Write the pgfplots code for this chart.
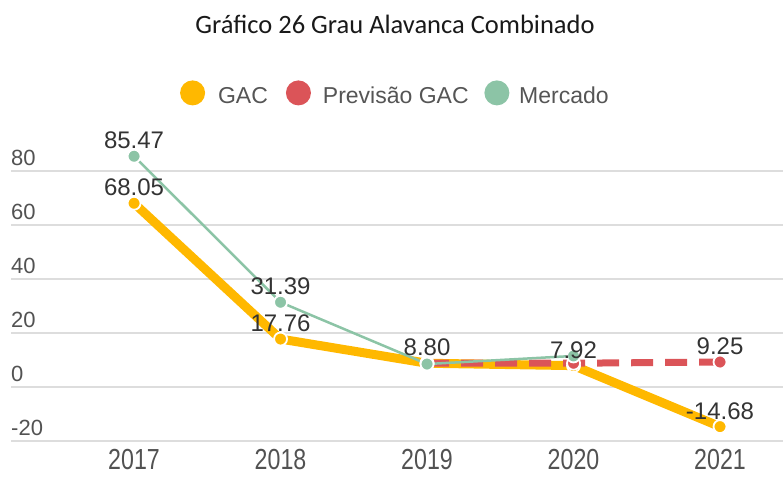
\documentclass[border=0pt]{standalone}
\usepackage{pgfplots}
\pgfplotsset{compat=1.18}
\usepackage{fontspec}
\setmainfont{Liberation Sans}
\newfontfamily\titlefont{Carlito}
\newfontfamily\narrowfont[FakeStretch=0.8]{Liberation Sans}
\definecolor{gac}{HTML}{FFB800}
\definecolor{prev}{HTML}{DB5458}
\definecolor{merc}{HTML}{8CC4A6}
\definecolor{gridc}{HTML}{DDDDDD}
\definecolor{txt}{HTML}{333333}
\definecolor{legtxt}{HTML}{555555}
\begin{document}
\begin{tikzpicture}[x=1pt,y=1pt]
\useasboundingbox (0,0) rectangle (783,476);
\node[font=\titlefont\fontsize{26.5}{30}\selectfont, text=black!90] at (395,452) {Gráfico 26 Grau Alavanca Combinado};
\begin{axis}[at={(11pt,35pt)}, anchor=south west, scale only axis,
  width=772pt, height=297pt,
  xmin=2016.16, xmax=2021.43, ymin=-20, ymax=90,
  xtick={2017,2018,2019,2020,2021}, xticklabels={2017,2018,2019,2020,2021},
  ytick={-20,0,20,40,60,80}, yticklabels={-20,0,20,40,60,80},
  ymajorgrids, major grid style={draw=gridc, line width=1.2pt},
  axis line style={draw=none}, tick style={draw=none}, clip=false,
  yticklabel style={anchor=south west, inner sep=0pt, yshift=5pt, xshift=0pt, font=\fontsize{22}{22}\selectfont, text=txt!85},
  xticklabel style={anchor=north, inner sep=0pt, yshift=-8pt, font=\narrowfont\fontsize{29}{29}\selectfont, text=txt!85},
  legend style={at={(0.494,1.172)}, anchor=center, draw=none, fill=none,
    font=\fontsize{23}{24}\selectfont, text=legtxt, legend columns=3,
    nodes={inner sep=0pt},
    /tikz/every odd column/.append style={column sep=9pt},
    /tikz/every even column/.append style={column sep=15pt}},
  legend cell align=left,
  nodes near coords style={font=\fontsize{24}{24}\selectfont, text=txt, anchor=south, inner sep=0pt, yshift=7pt},
]
\addplot[gac, line width=9pt, line join=round, mark=*, mark size=6.5pt,
  mark options={solid, draw=white, line width=1.8pt, fill=gac},
  legend image code/.code={\path[fill=gac, draw=none, solid] (12pt,3pt) circle (12.5pt); \path (0,0) (24pt,0);}]
  coordinates {(2017,68.05) (2018,17.76) (2019,8.80) (2020,7.92) (2021,-14.68)};
\addlegendentry{GAC}
\addplot[prev, line width=7pt, dash pattern=on 22pt off 12pt, mark=*, mark size=6.5pt,
  mark options={solid, draw=white, line width=1.8pt, fill=prev},
  legend image code/.code={\path[fill=prev, draw=none, solid] (12pt,3pt) circle (12.5pt); \path (0,0) (24pt,0);}]
  coordinates {(2019,8.80) (2020,8.80) (2021,9.25)};
\addlegendentry{Previsão GAC}
\addplot[merc, line width=2.5pt, mark=*, mark size=6.5pt,
  mark options={solid, draw=white, line width=1.8pt, fill=merc},
  legend image code/.code={\path[fill=merc, draw=none, solid] (12pt,3pt) circle (12.5pt); \path (0,0) (24pt,0);}]
  coordinates {(2017,85.47) (2018,31.39) (2019,8.50) (2020,11.50)};
\addlegendentry{Mercado}
\addplot[draw=none, forget plot, nodes near coords, point meta=explicit symbolic]
  coordinates {(2017,68.05)[68.05] (2018,17.76)[17.76] (2019,8.80)[8.80] (2020,7.92)[7.92] (2021,-14.68)[-14.68]};
\addplot[draw=none, forget plot, nodes near coords, point meta=explicit symbolic]
  coordinates {(2021,9.25)[9.25]};
\addplot[draw=none, forget plot, nodes near coords, point meta=explicit symbolic]
  coordinates {(2017,85.47)[85.47] (2018,31.39)[31.39]};
\end{axis}
\end{tikzpicture}
\end{document}
